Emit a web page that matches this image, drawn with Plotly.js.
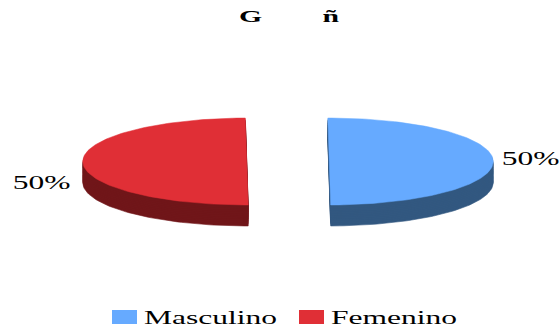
<!DOCTYPE html>
<html>
<head>
<meta charset="utf-8">
<script src="https://cdn.plot.ly/plotly-3.0.1.min.js"></script>
<style>html,body{margin:0;padding:0;background:#fff}#chart{width:559px;height:328px}</style>
</head>
<body>
<div id="chart"></div>
<script>
const categories = ['Masculino', 'Femenino'];
const values = [50, 50];
const topColors = ['#66AAFF', '#E02F36'];
const sideColors = ['#325880', '#701619'];
const titleParts = ['G', 'ñ'];

// Pie geometry, in radii of the pie
const squash = 0.265;
const depth = 0.128;
const explode = 0.2515;
const startAngle = 90.5;   // degrees, first slice runs clockwise from here
const PX = 164;            // pixels per radius
const W = 559, H = 328;
const cx = 288, cy = 161.5;

const total = values.reduce((a, b) => a + b, 0);
const traces = [];

function wedge(a0, a1, shiftX, shiftY) {
  const xs = [shiftX], ys = [shiftY];
  const n = 120;
  for (let i = 0; i <= n; i++) {
    const t = (a0 + (a1 - a0) * i / n) * Math.PI / 180;
    xs.push(shiftX + Math.cos(t));
    ys.push(shiftY + squash * Math.sin(t));
  }
  xs.push(shiftX); ys.push(shiftY);
  return {xs, ys};
}

let angle = startAngle;
values.forEach((v, i) => {
  const sweep = -360 * v / total;
  const mid = (angle + sweep / 2) * Math.PI / 180;
  const ox = explode * Math.sign(Math.cos(mid));
  const top = wedge(angle, angle + sweep, ox, 0);
  // extruded wall: the same outline swept down by the pie's depth
  for (let k = 12; k >= 1; k--) {
    const s = wedge(angle, angle + sweep, ox, -depth * k / 12);
    traces.push({
      x: s.xs, y: s.ys, mode: 'lines', fill: 'toself', fillcolor: sideColors[i],
      line: {width: 0.6, color: sideColors[i]}, hoverinfo: 'skip', showlegend: false
    });
  }
  traces.push({
    x: top.xs, y: top.ys, mode: 'lines', fill: 'toself', fillcolor: topColors[i],
    line: {width: 0.5, color: topColors[i]}, name: categories[i], showlegend: false
  });
  angle += sweep;
});

const serif = 'Liberation Serif, serif';
const labelFont = {family: serif, size: 18, color: '#000'};
const titleFont = {family: serif, size: 17, color: '#000'};

// Positions of the legend row and its swatches in paper fractions
const px = x => x / W, py = y => 1 - y / H;
const swatchX = [112, 299];
const legendTextX = [142, 329];

const annotations = [
  {xref: 'paper', yref: 'paper', x: px(530), y: py(159), text: Math.round(100 * values[0] / total) + '%',
   showarrow: false, xanchor: 'center', yanchor: 'middle', font: labelFont},
  {xref: 'paper', yref: 'paper', x: px(41), y: py(183), text: Math.round(100 * values[1] / total) + '%',
   showarrow: false, xanchor: 'center', yanchor: 'middle', font: labelFont},
  {xref: 'paper', yref: 'paper', x: px(250), y: py(16), text: '<b>' + titleParts[0] + '</b>',
   showarrow: false, xanchor: 'center', yanchor: 'middle', font: titleFont},
  {xref: 'paper', yref: 'paper', x: px(331), y: py(16), text: '<b>' + titleParts[1] + '</b>',
   showarrow: false, xanchor: 'center', yanchor: 'middle', font: titleFont}
];
categories.forEach((c, i) => annotations.push({
  xref: 'paper', yref: 'paper', x: px(legendTextX[i]), y: py(318), text: c,
  showarrow: false, xanchor: 'left', yanchor: 'middle', font: labelFont
}));

const shapes = categories.map((c, i) => ({
  type: 'rect', xref: 'paper', yref: 'paper',
  x0: px(swatchX[i]), x1: px(swatchX[i] + 25), y0: py(310), y1: py(324),
  fillcolor: topColors[i], line: {width: 0}
}));

const layout = {
  width: W, height: H,
  margin: {l: 0, r: 0, t: 0, b: 0},
  paper_bgcolor: '#fff', plot_bgcolor: '#fff',
  showlegend: false,
  xaxis: {range: [-cx / PX, (W - cx) / PX], visible: false, fixedrange: true},
  yaxis: {range: [-(H - cy) / PX, cy / PX], visible: false, fixedrange: true},
  annotations, shapes
};

Plotly.newPlot('chart', traces, layout, {displayModeBar: false, staticPlot: true}).then(() => {
  // The lettering is set wide: stretch each label horizontally about its anchor
  const stretch = 1.75;
  document.querySelectorAll('.annotation-text').forEach(t => {
    const left = t.getBBox().x;
    const w = t.getComputedTextLength();
    const isLegend = categories.includes(t.textContent);
    t.style.textAnchor = 'start';
    t.setAttribute('textLength', w * stretch);
    t.setAttribute('lengthAdjust', 'spacingAndGlyphs');
    t.setAttribute('x', isLegend ? left : left - w * (stretch - 1) / 2);
  });
});
</script>
</body>
</html>
